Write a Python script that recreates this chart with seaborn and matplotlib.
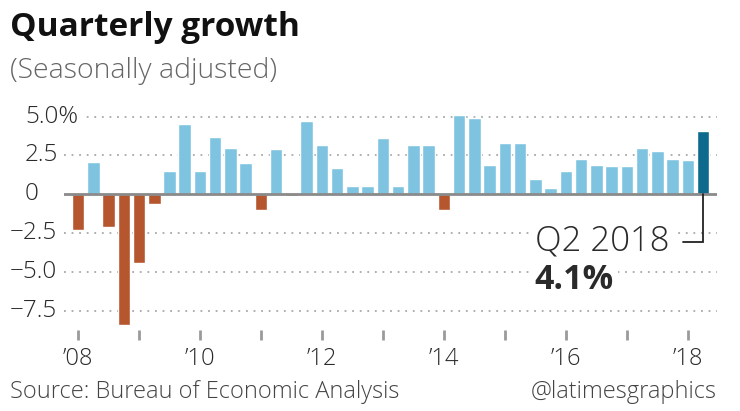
import matplotlib
matplotlib.use("Agg")
import matplotlib.pyplot as plt
import matplotlib.transforms as mtransforms
import seaborn as sns
import pandas as pd

# ---- data -------------------------------------------------------------
years = list(range(2008, 2019))
quarters = [f"{y} Q{q}" for y in years for q in range(1, 5)][:42]
growth = [-2.3, 2.1, -2.1, -8.4, -4.4, -0.6, 1.5, 4.5, 1.5, 3.7,
          3.0, 2.0, -1.0, 2.9, -0.1, 4.7, 3.2, 1.7, 0.5, 0.5,
          3.6, 0.5, 3.2, 3.2, -1.0, 5.1, 4.9, 1.9, 3.3, 3.3,
          1.0, 0.4, 1.5, 2.3, 1.9, 1.8, 1.8, 3.0, 2.8, 2.3,
          2.2, 4.1]
year_labels = ["\u201908", "", "\u201910", "", "\u201912", "", "\u201914", "",
               "\u201916", "", "\u201918"]
y_ticks = [5.0, 2.5, 0, -2.5, -5.0, -7.5]
y_tick_labels = ["5.0%", "2.5", "0", "\u22122.5", "\u22125.0", "\u22127.5"]

kind = ["neg" if v < 0 else "pos" for v in growth]
kind[-1] = "latest"
df = pd.DataFrame({"quarter": quarters, "growth": growth, "kind": kind})
palette = {"pos": "#7ec4e0", "neg": "#b5562f", "latest": "#0d6a8c"}

# ---- style ------------------------------------------------------------
sns.set_theme(style="white")
plt.rcParams["font.family"] = ["Open Sans", "DejaVu Sans"]
TXT = "#2a2a2a"
LW = "light"

W, H = 740, 411
fig = plt.figure(figsize=(W / 100, H / 100), dpi=100)
ax_left, ax_right, ax_top, ax_bot = 64, 717, 110.4, 330
ax = fig.add_axes([ax_left / W, (H - ax_bot) / H,
                   (ax_right - ax_left) / W, (ax_bot - ax_top) / H])

sns.barplot(data=df, x="quarter", y="growth", hue="kind", order=quarters,
            palette=palette, dodge=False, width=0.82, saturation=1,
            legend=False, ax=ax, zorder=3)

ax.set_xlim(-0.92, 41.91)
ax.set_ylim(-8.74, 5.4)

# grid lines
for v in y_ticks:
    if v == 0:
        continue
    ax.axhline(v, color="#a8a8a8", lw=1.3, ls=(0, (1, 3.2)), zorder=1)
ax.axhline(0, color="#8a8a8a", lw=2, zorder=4)

for s in ax.spines.values():
    s.set_visible(False)

ax.set_yticks([])
ax.set_xticks(range(0, 42, 4))
ax.set_xticklabels(year_labels, fontsize=17, color=TXT, fontweight=LW)
ax.tick_params(axis="x", length=7, width=2, color="#9a9a9a", pad=5,
               bottom=True)
ax.set_xlabel("")
ax.set_ylabel("")

# y labels (left-aligned digits, minus sign hanging)
trans = mtransforms.blended_transform_factory(fig.transFigure, ax.transData)
for v, lab in zip(y_ticks, y_tick_labels):
    xpx = 10 if v < 0 else 25
    ax.text(xpx / W, v, lab, transform=trans, ha="left", va="center",
            fontsize=17.5, color=TXT, fontweight=LW,
            clip_on=False, zorder=6,
            bbox=dict(facecolor="white", edgecolor="none", pad=2.5))

# annotation for latest quarter
last = len(growth) - 1
ax.plot([last - 1.3, last, last], [-3.05, -3.05, 0], color="#222222",
        lw=1.3, zorder=5, solid_joinstyle="miter")
ax.text(last - 2.2, -3.05, "Q2 2018", ha="right", va="center",
        fontsize=25, fontweight=LW, color=TXT, zorder=6,
        bbox=dict(facecolor="white", edgecolor="none", pad=3))
ax.text(29.95, -5.5, f"{growth[-1]}%", ha="left", va="center",
        fontsize=24.5, fontweight="bold", color=TXT, zorder=6,
        bbox=dict(facecolor="white", edgecolor="none", pad=3))

# titles & footer
fig.text(10 / W, 1 - 36 / H, "Quarterly growth", fontsize=24,
         fontweight="bold", color="#111111", va="baseline", ha="left")
fig.text(10 / W, 1 - 78 / H, "(Seasonally adjusted)", fontsize=20.5,
         fontweight=LW, color="#666666", va="baseline", ha="left")
fig.text(10 / W, 1 - 398 / H, "Source: Bureau of Economic Analysis",
         fontsize=17, fontweight=LW, color="#444444",
         va="baseline", ha="left")
fig.text(717 / W, 1 - 398 / H, "@latimesgraphics", fontsize=17,
         fontweight=LW, color="#444444", va="baseline", ha="right")

fig.savefig("out.png", dpi=100, facecolor="white")
